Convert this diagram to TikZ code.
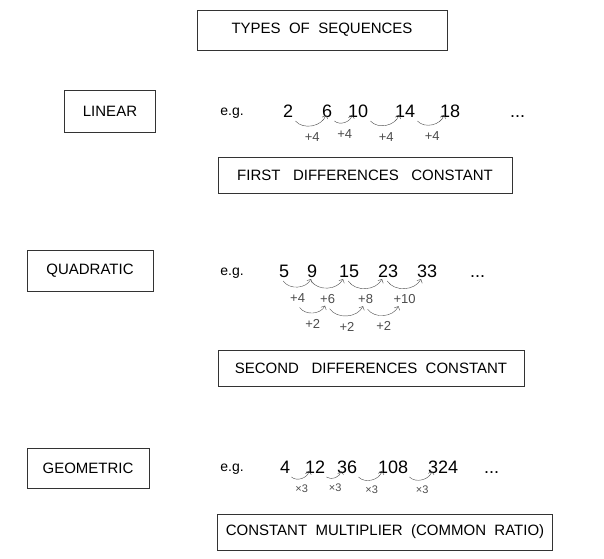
\documentclass[tikz,border=0pt]{standalone}
\usepackage{fontspec}
\setmainfont{Liberation Sans}
\usetikzlibrary{positioning,arrows.meta,calc}
\tikzset{
  tbox/.style={draw=black!80,thick,inner sep=0pt,font=\fontsize{15}{17}\selectfont},
  num/.style={inner sep=0pt,anchor=base west,font=\fontsize{18}{20}\selectfont},
  eg/.style={font=\fontsize{14}{16}\selectfont},
  diff/.style={inner sep=1pt,font=\fontsize{13}{15}\selectfont},
  sarc/.style={black!70,-{Straight Barb[length=3pt]},bend right=60}
}
\begin{document}
\begin{tikzpicture}[x=1pt,y=-1pt]
\useasboundingbox (0,0) rectangle (604,558);
% title
\node[tbox,minimum width=250,minimum height=40] (title) at (322,30) {TYPES\ \ OF\ \ SEQUENCES};

% linear
\node[tbox,minimum width=91,minimum height=42] (lin) at (110,111) {LINEAR};
\node[eg] (eg1) at (232,113) {e.g.};
\foreach \n/\x/\v in {a/283/2,b/322/6,c/348/10,d/395/14,e/440/18}
  \node[num] (l\n) at (\x,117) {\v};
\node[num] at (510,117) {...};
\foreach \p/\q in {a/b,b/c,c/d,d/e}
  \draw[sarc] ($(l\p.base east)+(2,4)$) to node[diff,below=6pt] {+4} ($(l\q.base west)+(4,-2)$);
\node[tbox,minimum width=294,minimum height=36] (lbox) at (365,175) {FIRST\ \ \ DIFFERENCES\ \ \ CONSTANT};

% quadratic
\node[tbox,minimum width=126,minimum height=41] (quad) at (90,271) {QUADRATIC};
\node[eg] (eg2) at (232,273) {e.g.};
\foreach \n/\x/\v in {a/279/5,b/307/9,c/339/15,d/378/23,e/417/33}
  \node[num] (q\n) at (\x,277) {\v};
\node[num] at (470,277) {...};
\foreach \p/\q/\m/\d in {a/b/1/+4,b/c/2/+6,c/d/3/+8,d/e/4/+10}
  \draw[sarc] ($(q\p.base)+(-1,4)$) to node[diff,below=5pt] (f\m) {\d} ($(q\q.base west)+(4,2)$);
\foreach \p/\q in {1/2,2/3,3/4}
  \draw[sarc] ($(f\p.south)+(2,4)$) to node[diff,below=5pt] {+2} ($(f\q.south west)+(6,1)$);
\node[tbox,minimum width=306,minimum height=36] (qbox) at (371,368) {SECOND\ \ \ DIFFERENCES\ \ CONSTANT};

% geometric
\node[tbox,minimum width=122,minimum height=40] (geo) at (88,468) {GEOMETRIC};
\node[eg] (eg3) at (232,469) {e.g.};
\foreach \n/\x/\v in {a/280/4,b/305/12,c/337/36,d/378/108,e/428/324}
  \node[num] (g\n) at (\x,473) {\v};
\node[num] at (484,473) {...};
\foreach \p/\q in {a/b,b/c,c/d,d/e}
  \draw[sarc] ($(g\p.base east)+(1,4)$) to node[diff,below=5pt,font=\fontsize{11}{13}\selectfont] {×3} ($(g\q.base west)+(4,-2)$);
\node[tbox,minimum width=335,minimum height=36] (gbox) at (385,532) {CONSTANT\ \ MULTIPLIER\ \ (COMMON\ \ RATIO)};
\end{tikzpicture}
\end{document}
